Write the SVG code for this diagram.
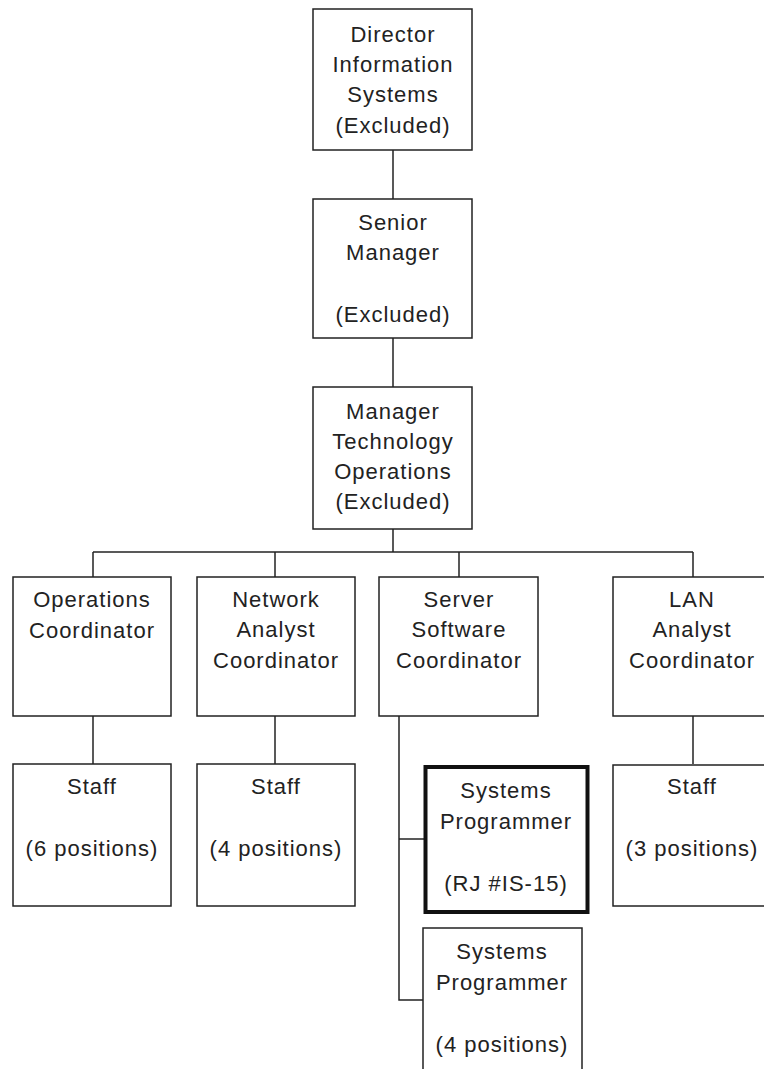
<svg xmlns="http://www.w3.org/2000/svg" width="764" height="1069" viewBox="0 0 764 1069">
<style>
.box{fill:#fff;stroke:#222;stroke-width:1.5}
.thick{fill:#fff;stroke:#111;stroke-width:4}
.ln{fill:none;stroke:#222;stroke-width:1.5}
text{font-family:"Liberation Sans",Arial,sans-serif;font-size:22px;fill:#222;text-anchor:middle;letter-spacing:1px}
</style>
<rect width="764" height="1069" fill="#fff"/>
<g id="connectors">
<line class="ln" x1="393" y1="150" x2="393" y2="199"/>
<line class="ln" x1="393" y1="338" x2="393" y2="387"/>
<line class="ln" x1="393" y1="529" x2="393" y2="552"/>
<line class="ln" x1="93" y1="552" x2="693" y2="552"/>
<line class="ln" x1="93" y1="552" x2="93" y2="577"/>
<line class="ln" x1="275" y1="552" x2="275" y2="577"/>
<line class="ln" x1="459" y1="552" x2="459" y2="577"/>
<line class="ln" x1="693" y1="552" x2="693" y2="577"/>
<line class="ln" x1="93" y1="716" x2="93" y2="764"/>
<line class="ln" x1="275" y1="716" x2="275" y2="764"/>
<line class="ln" x1="693" y1="716" x2="693" y2="764"/>
<polyline class="ln" points="399,716 399,1000 423,1000"/>
<line class="ln" x1="399" y1="839" x2="424" y2="839"/>
</g>
<g id="director">
<rect class="box" x="313" y="9" width="159" height="141"/>
<text x="393" y="42">Director</text>
<text x="393" y="72">Information</text>
<text x="393" y="102">Systems</text>
<text x="393" y="133">(Excluded)</text>
</g>
<g id="senior-manager">
<rect class="box" x="313" y="199" width="159" height="139"/>
<text x="393" y="230">Senior</text>
<text x="393" y="260">Manager</text>
<text x="393" y="322">(Excluded)</text>
</g>
<g id="manager-tech-ops">
<rect class="box" x="313" y="387" width="159" height="142"/>
<text x="393" y="419">Manager</text>
<text x="393" y="449">Technology</text>
<text x="393" y="479">Operations</text>
<text x="393" y="509">(Excluded)</text>
</g>
<g id="operations-coordinator">
<rect class="box" x="13" y="577" width="158" height="139"/>
<text x="92" y="607">Operations</text>
<text x="92" y="638">Coordinator</text>
</g>
<g id="network-analyst-coordinator">
<rect class="box" x="197" y="577" width="158" height="139"/>
<text x="276" y="607">Network</text>
<text x="276" y="637">Analyst</text>
<text x="276" y="668">Coordinator</text>
</g>
<g id="server-software-coordinator">
<rect class="box" x="379" y="577" width="159" height="139"/>
<text x="459" y="607">Server</text>
<text x="459" y="637">Software</text>
<text x="459" y="668">Coordinator</text>
</g>
<g id="lan-analyst-coordinator">
<rect class="box" x="613" y="577" width="158" height="139"/>
<text x="692" y="607">LAN</text>
<text x="692" y="637">Analyst</text>
<text x="692" y="668">Coordinator</text>
</g>
<g id="staff-ops">
<rect class="box" x="13" y="764" width="158" height="142"/>
<text x="92" y="794">Staff</text>
<text x="92" y="856">(6 positions)</text>
</g>
<g id="staff-network">
<rect class="box" x="197" y="764" width="158" height="142"/>
<text x="276" y="794">Staff</text>
<text x="276" y="856">(4 positions)</text>
</g>
<g id="staff-lan">
<rect class="box" x="613" y="765" width="158" height="141"/>
<text x="692" y="794">Staff</text>
<text x="692" y="856">(3 positions)</text>
</g>
<g id="systems-programmer-rj">
<rect class="thick" x="425.5" y="767" width="162" height="145"/>
<text x="506" y="798">Systems</text>
<text x="506" y="829">Programmer</text>
<text x="506" y="891">(RJ #IS-15)</text>
</g>
<g id="systems-programmer-4">
<rect class="box" x="423" y="928" width="159" height="150"/>
<text x="502" y="959">Systems</text>
<text x="502" y="990">Programmer</text>
<text x="502" y="1052">(4 positions)</text>
</g>
</svg>
